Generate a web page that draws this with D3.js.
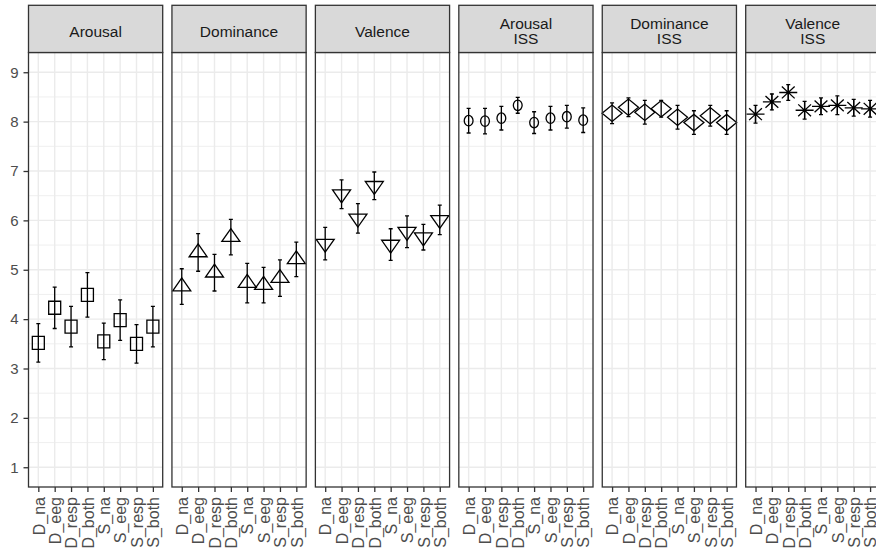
<!DOCTYPE html>
<html>
  <head>
    <meta charset="UTF-8">
    <title>Ratings by condition</title>
    <script src="https://cdn.jsdelivr.net/npm/d3@7"></script>
    <style>
      body { margin: 0; background: #fff; }
      svg  { display: block; font-family: "Liberation Sans", Arial, sans-serif; }
    </style>
  </head>
  <body>
    <script>
      // conditions on the x axis (same in every panel)
      var categories = ["D_na", "D_eeg", "D_resp", "D_both", "S_na", "S_eeg", "S_resp", "S_both"];

      // facet titles (strip labels)
      var facets = ["Arousal", "Dominance", "Valence", "Arousal\nISS", "Dominance\nISS", "Valence\nISS"];
      var shapes = ["square", "triangle", "triangleDown", "circle", "diamond", "asterisk"];

      // means per facet
      var arousalMean   = [3.52, 4.23, 3.85, 4.49, 3.55, 3.98, 3.50, 3.85];
      var dominanceMean = [4.66, 5.35, 4.94, 5.66, 4.73, 4.69, 4.83, 5.21];
      var valenceMean   = [5.53, 6.53, 6.04, 6.70, 5.51, 5.77, 5.66, 6.01];
      var arousalIss    = [8.02, 8.01, 8.07, 8.33, 7.98, 8.07, 8.10, 8.03];
      var dominanceIss  = [8.17, 8.29, 8.19, 8.26, 8.09, 7.98, 8.12, 7.98];
      var valenceIss    = [8.15, 8.40, 8.59, 8.23, 8.31, 8.33, 8.28, 8.26];

      // error bar half widths per facet
      var arousalErr      = [0.39, 0.42, 0.41, 0.45, 0.37, 0.41, 0.39, 0.41];
      var dominanceErr    = [0.36, 0.38, 0.37, 0.36, 0.40, 0.36, 0.37, 0.35];
      var valenceErr      = [0.33, 0.29, 0.30, 0.28, 0.32, 0.32, 0.26, 0.30];
      var arousalIssErr   = [0.25, 0.26, 0.24, 0.16, 0.22, 0.24, 0.23, 0.25];
      var dominanceIssErr = [0.21, 0.19, 0.24, 0.17, 0.24, 0.24, 0.21, 0.24];
      var valenceIssErr   = [0.18, 0.16, 0.16, 0.18, 0.17, 0.19, 0.17, 0.17];

      var yTicks = [1, 2, 3, 4, 5, 6, 7, 8, 9];
      var yMinor = [1.5, 2.5, 3.5, 4.5, 5.5, 6.5, 7.5, 8.5];

      var means = [arousalMean, dominanceMean, valenceMean, arousalIss, dominanceIss, valenceIss];
      var errs  = [arousalErr, dominanceErr, valenceErr, arousalIssErr, dominanceIssErr, valenceIssErr];

      var width = 876, height = 553;
      var panelLeft = 28.5, panelW = 134.2, panelPitch = 143.44;
      var stripTop = 5.3, stripBottom = 52.5, plotBottom = 487;

      var svg = d3.select("body").append("svg")
        .attr("width", width)
        .attr("height", height);

      var y = d3.scaleLinear().domain([0.6, 9.4]).range([plotBottom, stripBottom]);
      var x = d3.scalePoint().domain(categories).range([0, panelW]).padding(0.6);

      // point glyphs
      function glyph(g, type) {
        var s = g.append("path")
          .attr("fill", "none")
          .attr("stroke", "#000")
          .attr("stroke-width", 1.3);
        if (type === "square") s.attr("d", "M-6,-6.5H6V6.5H-6Z");
        if (type === "triangle") s.attr("d", "M0,-8.6L9,4.3L-9,4.3Z");
        if (type === "triangleDown") s.attr("d", "M0,8.6L9,-4.3L-9,-4.3Z");
        if (type === "circle") s.attr("d", "M-4.4,0A4.4,5.2 0 1,0 4.4,0A4.4,5.2 0 1,0 -4.4,0");
        if (type === "diamond") s.attr("d", "M-10,0L0,-8.2L10,0L0,8.2Z");
        if (type === "asterisk") s.attr("d", "M-9,0H9M0,-8.3V8.3M-6.4,-5.9L6.4,5.9M-6.4,5.9L6.4,-5.9");
      }

      facets.forEach(function (name, f) {
        var left = panelLeft + f * panelPitch;
        var p = svg.append("g").attr("transform", "translate(" + left + ",0)");

        // panel background
        p.append("rect")
          .attr("x", 0).attr("y", stripBottom)
          .attr("width", panelW).attr("height", plotBottom - stripBottom)
          .attr("fill", "#fff");

        // grid
        p.selectAll(".minor").data(yMinor).enter().append("line")
          .attr("x1", 0).attr("x2", panelW)
          .attr("y1", function (d) { return y(d); })
          .attr("y2", function (d) { return y(d); })
          .attr("stroke", "#EBEBEB").attr("stroke-width", 0.8);
        p.selectAll(".major").data(yTicks).enter().append("line")
          .attr("x1", 0).attr("x2", panelW)
          .attr("y1", function (d) { return y(d); })
          .attr("y2", function (d) { return y(d); })
          .attr("stroke", "#EBEBEB").attr("stroke-width", 1.4);
        p.selectAll(".vgrid").data(categories).enter().append("line")
          .attr("x1", function (d) { return x(d); })
          .attr("x2", function (d) { return x(d); })
          .attr("y1", stripBottom).attr("y2", plotBottom)
          .attr("stroke", "#EBEBEB").attr("stroke-width", 1.4);

        var rows = categories.map(function (c, i) {
          return { cat: c, m: means[f][i], e: errs[f][i] };
        });

        // error bars
        var eb = p.selectAll(".eb").data(rows).enter().append("g")
          .attr("transform", function (d) { return "translate(" + x(d.cat) + ",0)"; });
        eb.append("path")
          .attr("d", function (d) {
            var t = y(d.m + d.e), b = y(d.m - d.e);
            return "M-2,"+t+"H2M0,"+t+"V"+b+"M-2,"+b+"H2";
          })
          .attr("fill", "none").attr("stroke", "#000").attr("stroke-width", 1.3);

        // points
        p.selectAll(".pt").data(rows).enter().append("g")
          .attr("transform", function (d) { return "translate(" + x(d.cat) + "," + y(d.m) + ")"; })
          .each(function () { glyph(d3.select(this), shapes[f]); });

        // panel border
        p.append("rect")
          .attr("x", 0).attr("y", stripBottom)
          .attr("width", panelW).attr("height", plotBottom - stripBottom)
          .attr("fill", "none").attr("stroke", "#333").attr("stroke-width", 1.3);

        // strip
        p.append("rect")
          .attr("x", 0).attr("y", stripTop)
          .attr("width", panelW).attr("height", stripBottom - stripTop)
          .attr("fill", "#D9D9D9").attr("stroke", "#333").attr("stroke-width", 1.3);
        var lines = name.split("\n");
        lines.forEach(function (l, k) {
          p.append("text")
            .attr("text-anchor", "middle")
            .attr("font-size", 15.5)
            .attr("fill", "#1A1A1A")
            .attr("x", panelW / 2)
            .attr("y", lines.length === 1 ? 36.5 : 29.3 + k * 14.5)
            .text(l);
        });

        // x axis
        var xa = p.append("g").attr("transform", "translate(0," + plotBottom + ")");
        xa.call(d3.axisBottom(x).tickSize(5).tickSizeOuter(0));
        xa.select(".domain").remove();
        xa.selectAll(".tick line").attr("stroke", "#333").attr("stroke-width", 1.3);
        xa.selectAll(".tick text")
          .attr("fill", "#4D4D4D")
          .attr("font-size", 16)
          .attr("font-family", "Liberation Sans, Arial, sans-serif")
          .attr("text-anchor", "end")
          .attr("transform", "rotate(-90)")
          .attr("x", -10)
          .attr("y", 0)
          .attr("dy", "0.36em");

        // y axis on first panel only
        if (f === 0) {
          var ya = p.append("g");
          ya.call(d3.axisLeft(y).tickValues(yTicks).tickSize(5).tickPadding(5).tickFormat(d3.format("d")));
          ya.select(".domain").remove();
          ya.selectAll(".tick line").attr("stroke", "#333").attr("stroke-width", 1.3);
          ya.selectAll(".tick text")
            .attr("fill", "#4D4D4D")
            .attr("font-size", 15)
            .attr("font-family", "Liberation Sans, Arial, sans-serif");
        }
      });
    </script>
  </body>
</html>
